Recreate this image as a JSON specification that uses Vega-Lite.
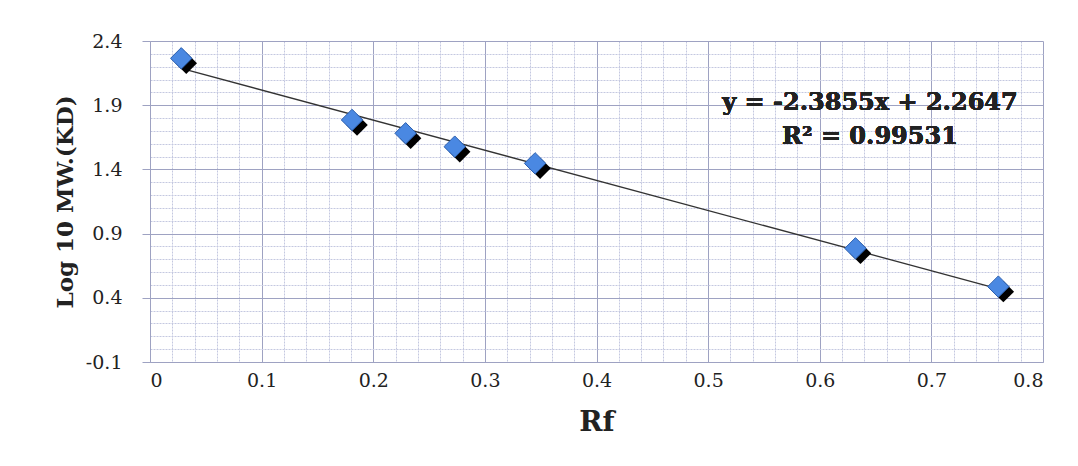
{
  "$schema": "https://vega.github.io/schema/vega-lite/v6.json",
  "autosize": "none",
  "width": 893,
  "height": 321,
  "padding": {"left": 150, "top": 41, "right": 35, "bottom": 104},
  "background": "white",
  "config": {
    "view": {"stroke": null},
    "font": "DejaVu Serif"
  },
  "data": {
    "values": [
      {"Rf": 0.028, "logMW": 2.265},
      {"Rf": 0.181, "logMW": 1.785},
      {"Rf": 0.229, "logMW": 1.681},
      {"Rf": 0.273, "logMW": 1.577},
      {"Rf": 0.345, "logMW": 1.447},
      {"Rf": 0.632, "logMW": 0.785},
      {"Rf": 0.760, "logMW": 0.487}
    ]
  },
  "resolve": {"axis": {"x": "independent", "y": "independent"}},
  "layer": [
    {
      "mark": {"type": "point", "opacity": 0},
      "encoding": {
        "x": {"field": "Rf", "type": "quantitative", "scale": {"domain": [0, 0.8], "nice": false, "zero": false},
          "axis": {"orient": "bottom", "values": [0.02,0.04,0.06,0.08,0.12,0.14,0.16,0.18,0.22,0.24,0.26,0.28,0.32,0.34,0.36,0.38,0.42,0.44,0.46,0.48,0.52,0.54,0.56,0.58,0.62,0.64,0.66,0.68,0.72,0.74,0.76,0.78],
            "labels": false, "ticks": false, "domain": false, "title": null, "grid": true, "gridColor": "#c4c8e0", "gridDash": [2, 1], "gridWidth": 1}},
        "y": {"field": "logMW", "type": "quantitative", "scale": {"domain": [-0.1, 2.4], "nice": false, "zero": false},
          "axis": {"orient": "left", "values": [0.0,0.1,0.2,0.3,0.5,0.6,0.7,0.8,1.0,1.1,1.2,1.3,1.5,1.6,1.7,1.8,2.0,2.1,2.2,2.3],
            "labels": false, "ticks": false, "domain": false, "title": null, "grid": true, "gridColor": "#c4c8e0", "gridDash": [2, 1], "gridWidth": 1}}
      }
    },
    {
      "mark": {"type": "point", "opacity": 0},
      "encoding": {
        "x": {"field": "Rf", "type": "quantitative", "scale": {"domain": [0, 0.8], "nice": false, "zero": false},
          "axis": {"orient": "bottom", "values": [0,0.1,0.2,0.3,0.4,0.5,0.6,0.7,0.8], "labelExpr": "toString(datum.value)",
            "grid": true, "gridColor": "#9ea2c2", "gridWidth": 1, "domain": true, "domainColor": "#9ea2c2",
            "ticks": false, "labelFont": "DejaVu Serif", "labelFontSize": 19, "labelColor": "#222222", "labelPadding": 9,
            "title": "Rf", "titleFont": "DejaVu Serif", "titleFontSize": 28, "titleFontWeight": "bold", "titleColor": "#222222", "titlePadding": 18}},
        "y": {"field": "logMW", "type": "quantitative", "scale": {"domain": [-0.1, 2.4], "nice": false, "zero": false},
          "axis": {"orient": "left", "values": [-0.1,0.4,0.9,1.4,1.9,2.4], "labelExpr": "toString(datum.value)",
            "grid": true, "gridColor": "#9ea2c2", "gridWidth": 1, "domain": true, "domainColor": "#9ea2c2",
            "ticks": true, "tickSize": 8, "tickColor": "#9ea2c2", "labelFont": "DejaVu Serif", "labelFontSize": 19, "labelColor": "#222222", "labelPadding": 20,
            "title": "Log 10 MW.(KD)", "titleFont": "DejaVu Serif", "titleFontSize": 23, "titleFontWeight": "bold", "titleColor": "#222222", "titlePadding": 8}}
      }
    },
    {
      "transform": [{"regression": "logMW", "on": "Rf"}],
      "mark": {"type": "line", "color": "#333333", "strokeWidth": 1.3},
      "encoding": {
        "x": {"field": "Rf", "type": "quantitative", "axis": null},
        "y": {"field": "logMW", "type": "quantitative", "axis": null}
      }
    },
    {
      "mark": {"type": "point", "shape": "diamond", "filled": true, "color": "#000000", "size": 460, "xOffset": 5, "yOffset": 5, "opacity": 1},
      "encoding": {
        "x": {"field": "Rf", "type": "quantitative", "axis": null},
        "y": {"field": "logMW", "type": "quantitative", "axis": null}
      }
    },
    {
      "mark": {"type": "point", "shape": "diamond", "filled": true, "fill": "#4a88e2", "stroke": "#2c5fae", "strokeWidth": 1, "size": 460, "opacity": 1},
      "encoding": {
        "x": {"field": "Rf", "type": "quantitative", "axis": null},
        "y": {"field": "logMW", "type": "quantitative", "axis": null}
      }
    },
    {
      "mark": {"type": "text", "text": "y = -2.3855x + 2.2647", "font": "DejaVu Serif", "fontSize": 24, "fontWeight": "bold", "color": "#222222", "align": "center", "baseline": "middle"},
      "encoding": {
        "x": {"datum": 0.645, "type": "quantitative", "axis": null},
        "y": {"datum": 1.915, "type": "quantitative", "axis": null}
      }
    },
    {
      "mark": {"type": "text", "text": "R² = 0.99531", "font": "DejaVu Serif", "fontSize": 24, "fontWeight": "bold", "color": "#222222", "align": "center", "baseline": "middle"},
      "encoding": {
        "x": {"datum": 0.645, "type": "quantitative", "axis": null},
        "y": {"datum": 1.65, "type": "quantitative", "axis": null}
      }
    }
  ]
}
